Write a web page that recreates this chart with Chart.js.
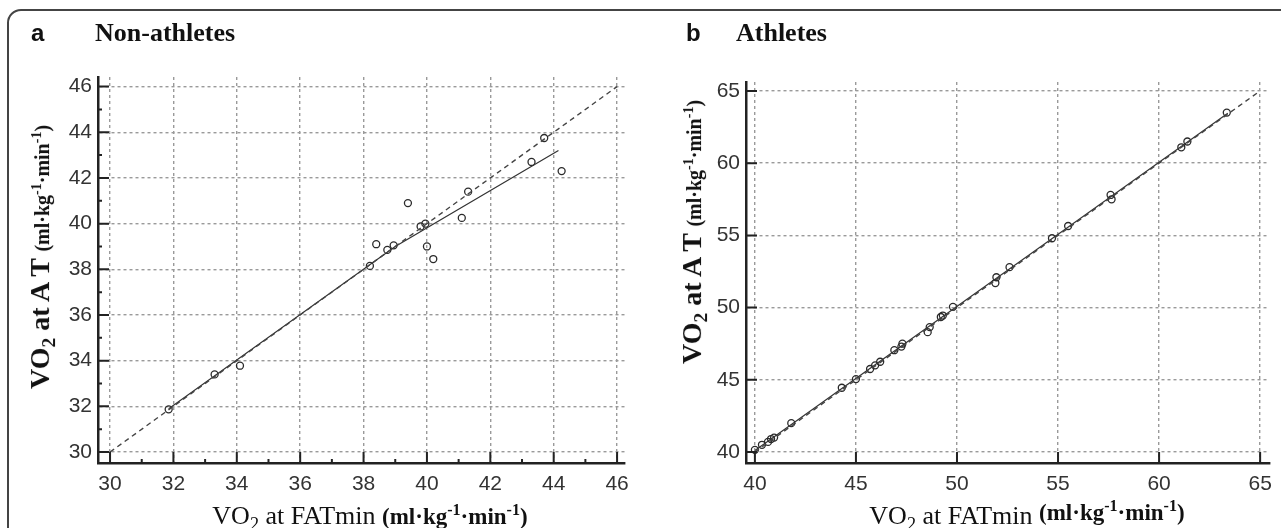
<!DOCTYPE html>
<html>
<head>
<meta charset="utf-8">
<script src="https://cdn.jsdelivr.net/npm/chart.js@4.4.0/dist/chart.umd.min.js"></script>
<style>
  body { margin: 0; width: 1281px; height: 528px; overflow: hidden; background: #fff; position: relative; }
  #frame { position: absolute; left: 7px; top: 9px; width: 1320px; height: 620px; border: 2px solid #444; border-top-left-radius: 14px; }
  canvas { position: absolute; top: 0; }
  .lbl { position: absolute; white-space: nowrap; color: #111; }
  .letter { font: bold 24px 'Liberation Sans', Arial, sans-serif; }
  .ptitle { font: bold 26px 'Liberation Serif', 'Times New Roman', serif; }
  .ytitle { font: bold 28px 'Liberation Serif', serif; transform: translate(-50%, -50%) rotate(-90deg); }
  .ytitle .unit { font: bold 20px 'Liberation Serif', serif; }
  .xtitle { font: 26px 'Liberation Serif', serif; transform: translate(-50%, -50%); }
  .xtitle .unit { font: bold 23px 'Liberation Serif', serif; }
  sub { font-size: 70%; vertical-align: -0.3em; }
  sup { font-size: 70%; vertical-align: 0.55em; }
</style>
</head>
<body>
<div id="frame"></div>
<canvas id="chartA" width="640" height="528" style="left:0"></canvas>
<canvas id="chartB" width="641" height="528" style="left:640px"></canvas>

<div class="lbl letter" style="left:31px;top:19px">a</div>
<div class="lbl ptitle" style="left:95px;top:18px">Non-athletes</div>
<div class="lbl letter" style="left:686px;top:19px">b</div>
<div class="lbl ptitle" style="left:736px;top:18px">Athletes</div>

<div class="lbl ytitle" style="left:42px;top:257px">VO<sub>2</sub> at A T <span class="unit">(ml·kg<sup>-1</sup>·min<sup>-1</sup>)</span></div>
<div class="lbl ytitle" style="left:694px;top:232px">VO<sub>2</sub> at A T <span class="unit">(ml·kg<sup>-1</sup>·min<sup>-1</sup>)</span></div>
<div class="lbl xtitle" style="left:370px;top:518px">VO<sub>2</sub> at FATmin <span class="unit">(ml·kg<sup>-1</sup>·min<sup>-1</sup>)</span></div>
<div class="lbl xtitle" style="left:1027px;top:518px">VO<sub>2</sub> at FATmin <span class="unit" style="position:relative;top:-4px">(ml·kg<sup>-1</sup>·min<sup>-1</sup>)</span></div>

<script>
// panel a: non-athletes
const nonAthX = [31.85, 33.3, 34.1, 38.2, 38.4, 38.75, 38.95, 39.4, 39.8, 39.95, 40.0, 40.2, 41.1, 41.3, 43.3, 43.7, 44.25]
const nonAthY = [31.87, 33.4, 33.78, 38.15, 39.1, 38.85, 39.05, 40.9, 39.88, 40.0, 39.0, 38.45, 40.25, 41.4, 42.7, 43.75, 42.3]
const nonAthFitX = [31.85, 39.0, 44.15]
const nonAthFitY = [31.9, 39.0, 43.2]
const identityA = [30, 46]
const ticksA = [30, 32, 34, 36, 38, 40, 42, 44, 46]

// panel b: athletes
const athX = [40.0, 40.35, 40.65, 40.8, 40.95, 41.8, 44.3, 45.0, 45.7, 45.95, 46.2, 46.9, 47.25, 47.3, 48.55, 48.65, 49.2, 49.3, 49.8, 51.9, 51.95, 52.6, 54.7, 55.5, 57.6, 57.65, 61.1, 61.4, 63.35]
const athY = [40.15, 40.5, 40.7, 40.9, 41.0, 42.0, 44.45, 45.05, 45.75, 46.0, 46.25, 47.05, 47.3, 47.5, 48.3, 48.65, 49.35, 49.45, 50.05, 51.7, 52.1, 52.8, 54.8, 55.65, 57.8, 57.5, 61.1, 61.5, 63.5]
const athFitX = [40.0, 63.4]
const athFitY = [40.1, 63.45]
const identityB = [40, 65]
const ticksB = [40, 45, 50, 55, 60, 65]

const pairs = (xs, ys) => xs.map((x, i) => ({ x: x, y: ys[i] }))

// tick marks pointing into the plot, like the original figure
const innerTicks = {
  id: 'innerTicks',
  afterDraw(chart, args, opts) {
    const { ctx, chartArea: area, scales } = chart
    const x = scales.x, y = scales.y
    ctx.save()
    ctx.strokeStyle = '#222'
    ctx.lineWidth = 2
    ctx.beginPath()
    const step = opts.ticks[1] - opts.ticks[0]
    opts.ticks.forEach(v => {
      const px = x.getPixelForValue(v), py = y.getPixelForValue(v)
      ctx.moveTo(px, area.bottom); ctx.lineTo(px, area.bottom - 11)
      ctx.moveTo(area.left, py); ctx.lineTo(area.left + 11, py)
      if (opts.minor && v < opts.ticks[opts.ticks.length - 1]) {
        const m = v + step / 2
        ctx.moveTo(x.getPixelForValue(m), area.bottom); ctx.lineTo(x.getPixelForValue(m), area.bottom - 4)
        ctx.moveTo(area.left, y.getPixelForValue(m)); ctx.lineTo(area.left + 4, y.getPixelForValue(m))
      }
    })
    ctx.stroke()
    ctx.restore()
  }
}

function axis(min, max, ticks, isY) {
  return {
    type: 'linear',
    min: min,
    max: max,
    afterBuildTicks: s => { s.ticks = ticks.map(v => ({ value: v })) },
    afterFit: s => { if (isY) s.width = 58; else s.height = 30 },
    grid: { color: '#9a9a9a', lineWidth: 1.4, drawTicks: false },
    border: { display: true, color: '#222', width: 2.5, dash: [3, 3] },
    ticks: {
      color: '#333',
      padding: isY ? 6 : 9,
      font: { family: "'Liberation Sans', Arial, sans-serif", size: 21 },
      callback: v => String(v)
    }
  }
}

function makeChart(id, pts, fit, identity, xr, yr, ticks, padding, minor) {
  return new Chart(document.getElementById(id), {
    type: 'scatter',
    data: {
      datasets: [
        {
          type: 'line',
          data: pairs(identity, identity),
          borderColor: '#444',
          borderWidth: 1.4,
          borderDash: [5, 4],
          pointRadius: 0,
          fill: false
        },
        {
          type: 'line',
          data: fit,
          borderColor: '#333',
          borderWidth: 1.2,
          pointRadius: 0,
          fill: false
        },
        {
          data: pts,
          pointStyle: 'circle',
          pointRadius: 3.5,
          borderColor: '#2a2a2a',
          borderWidth: 1.3,
          backgroundColor: 'rgba(255,255,255,0)'
        }
      ]
    },
    options: {
      responsive: false,
      animation: false,
      layout: { padding: padding },
      plugins: {
        legend: { display: false },
        tooltip: { enabled: false },
        innerTicks: { ticks: ticks, minor: minor }
      },
      scales: {
        x: axis(xr[0], xr[1], ticks, false),
        y: axis(yr[0], yr[1], ticks, true)
      }
    },
    plugins: [innerTicks]
  })
}

makeChart('chartA', pairs(nonAthX, nonAthY), pairs(nonAthFitX, nonAthFitY), identityA,
  [29.62, 46.25], [29.52, 46.42], ticksA, { left: 40, right: 15, top: 77, bottom: 35 }, true)
makeChart('chartB', pairs(athX, athY), pairs(athFitX, athFitY), identityB,
  [39.56, 65.45], [39.24, 65.62], ticksB, { left: 48, right: 11, top: 82, bottom: 35 }, false)
</script>
</body>
</html>
